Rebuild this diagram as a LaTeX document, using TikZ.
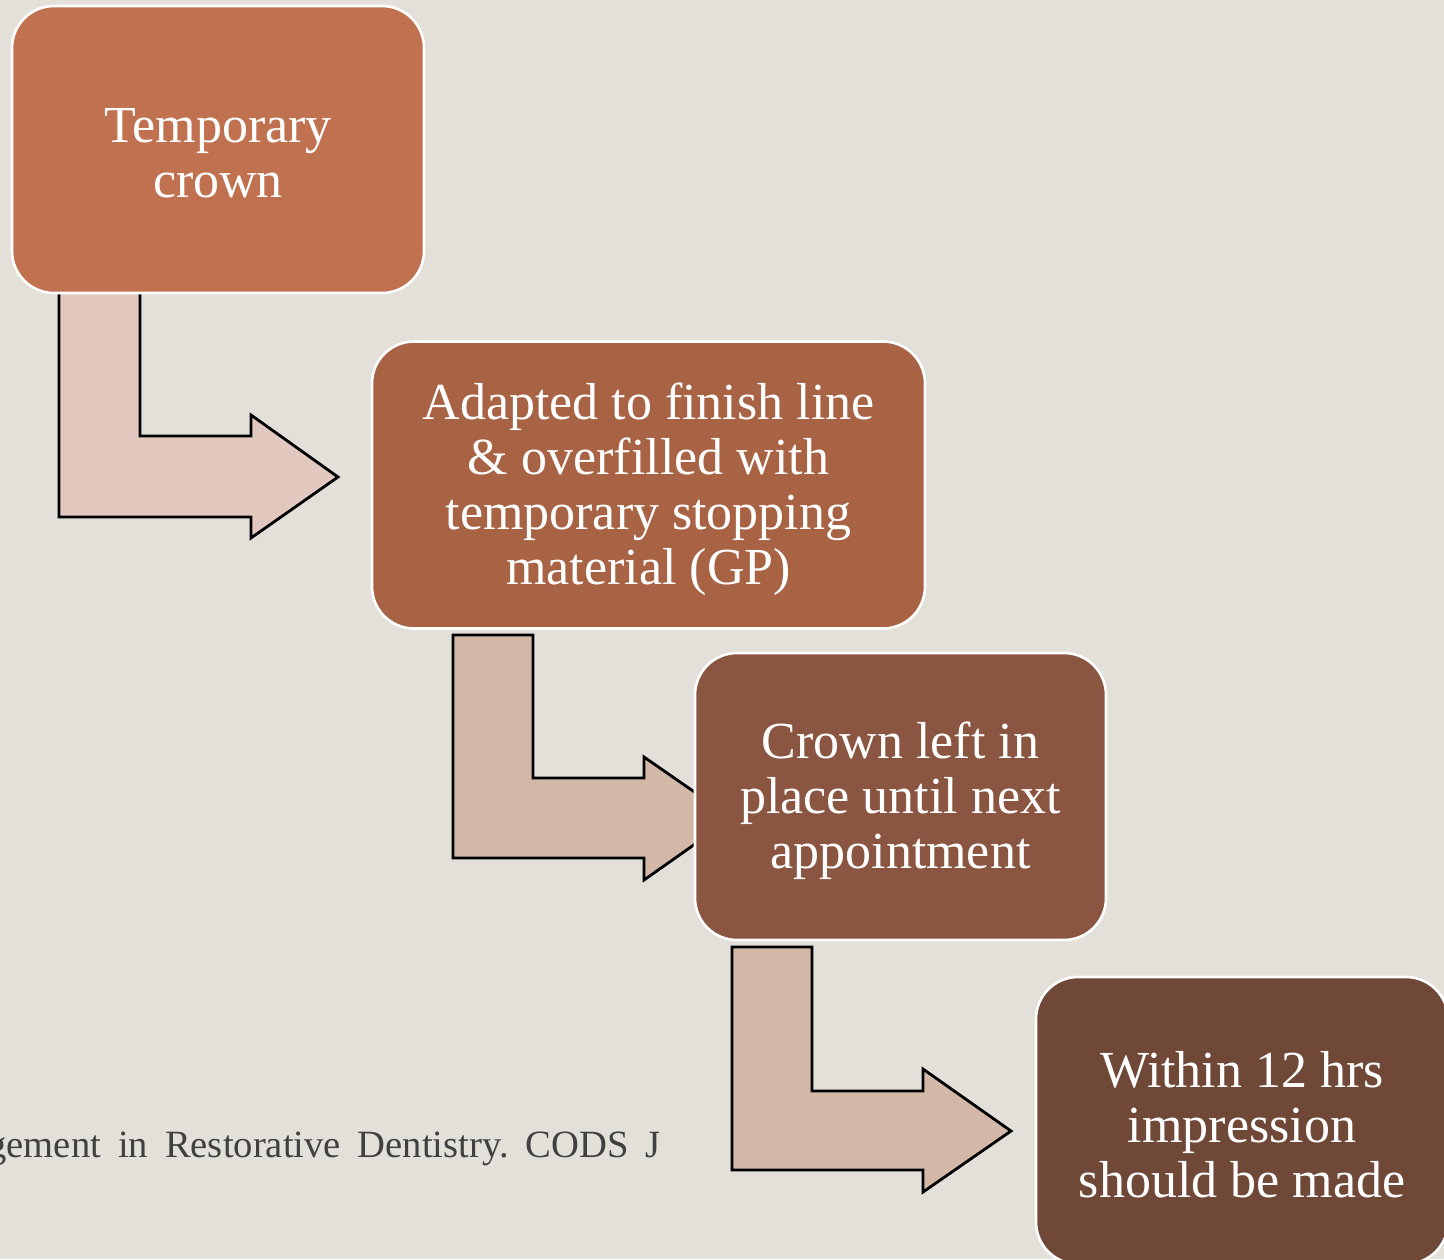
\documentclass[tikz,border=0pt]{standalone}
\usepackage{fontspec}
\setmainfont{Liberation Serif}
\definecolor{bg}{HTML}{E3E0DA}
\definecolor{cA}{HTML}{C07250}
\definecolor{cB}{HTML}{A86244}
\definecolor{cC}{HTML}{8B5641}
\definecolor{cD}{HTML}{6F4838}
\definecolor{arrA}{HTML}{E3C8C0}
\definecolor{arrB}{HTML}{D3B8A8}
\definecolor{citec}{HTML}{404040}
\begin{document}
\begin{tikzpicture}[x=0.5pt,y=-0.5pt,
  stepbox/.style={draw=white, line width=1.3pt, rounded corners=21pt,
    minimum height=143.5pt, inner sep=0pt},
  steptext/.style={text=white, align=center, inner sep=0pt, yshift=-2pt,
    font=\fontsize{26}{27.5}\selectfont},
  bent/.style={draw=black, line width=1.4pt, line join=miter}]
\useasboundingbox (0,0) rectangle (1444,1259);
\clip (0,0) rectangle (1444,1259);
\fill[bg] (0,0) rectangle (1444,1259);

% citation fragment
\node[anchor=base east, inner sep=0pt, text=citec, font=\fontsize{19.3}{22}\selectfont] (cite) at (661,1157)
  {gement\hspace{.44em}in\hspace{.44em}Restorative\hspace{.44em}Dentistry.\hspace{.44em}CODS\hspace{.44em}J};

% bent arrows
\draw[bent, fill=arrA] (59,290) -- (140,290) -- (140,436) -- (251,436) -- (251,415) -- (338,477)
  -- (251,538) -- (251,517) -- (59,517) -- cycle;
\draw[bent, fill=arrB] (453,635) -- (533,635) -- (533,778) -- (644,778) -- (644,757) -- (732,818)
  -- (644,880) -- (644,858) -- (453,858) -- cycle;
\draw[bent, fill=arrB] (732,947) -- (812,947) -- (812,1091) -- (923,1091) -- (923,1069) -- (1011,1131)
  -- (923,1192) -- (923,1170) -- (732,1170) -- cycle;

% boxes
\node[stepbox, fill=cA, minimum width=206pt] (b1) at (218,149.5) {};
\node[steptext] (t1) at (b1.center) {Temporary\\crown};
\node[stepbox, fill=cB, minimum width=276.5pt] (b2) at (648.5,485) {};
\node[steptext] (t2) at (b2.center)
  {Adapted to finish line\\\& overfilled with\\temporary stopping\\material (GP)};
\node[stepbox, fill=cC, minimum width=205.5pt] (b3) at (900.5,796.5) {};
\node[steptext] (t3) at (b3.center)
  {Crown left in\\place until next\\appointment};
\node[stepbox, fill=cD, minimum width=206pt] (b4) at (1242,1120.5) {};
\node[steptext] (t4) at (b4.center)
  {Within 12 hrs\\impression\\should be made};
\end{tikzpicture}
\end{document}
